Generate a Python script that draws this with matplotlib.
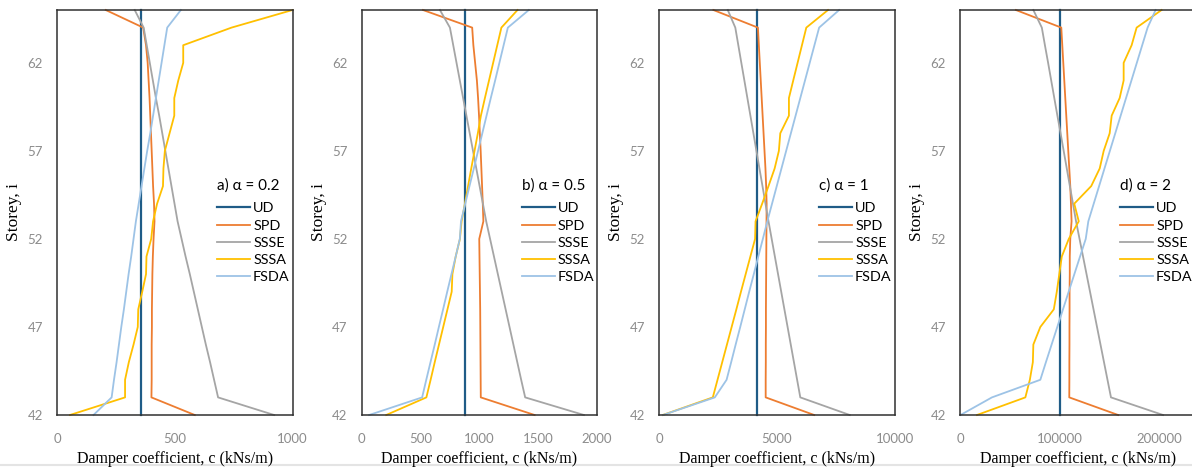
import numpy as np
import matplotlib.pyplot as plt
from matplotlib.lines import Line2D

plt.rcParams['font.family'] = ['Lato', 'DejaVu Sans']

storeys = [42, 43, 44, 45, 46, 47, 48, 49, 50, 51, 52, 53,
           54, 55, 56, 57, 58, 59, 60, 61, 62, 63, 64, 65]

# a) alpha = 0.2
ud_a = 358
spd_a = [585, 401, 402, 402, 402, 403, 403, 404, 405, 407, 410, 414,
         412, 408, 405, 402, 399, 396, 393, 389, 385, 378, 366, 207]
ssse_a = [922, 684, 667, 650, 632, 615, 598, 581, 564, 546, 529, 512,
          499, 486, 473, 460, 447, 434, 420, 407, 394, 381, 368, 330]
sssa_a = [55, 289, 289, 305, 325, 343, 345, 362, 378, 380, 400, 408,
          425, 450, 452, 458, 478, 498, 498, 515, 536, 536, 741, 1000]
fsda_a = [155, 232, 242, 253, 263, 273, 284, 294, 304, 315, 325, 335,
          347, 359, 371, 383, 396, 408, 420, 432, 444, 456, 468, 526]

# b) alpha = 0.5
ud_b = 880
spd_b = [1470, 1013, 1012, 1011, 1010, 1009, 1008, 1006, 1004, 1002, 1000, 1035,
         1030, 1024, 1018, 1012, 1005, 998, 990, 980, 965, 950, 940, 522]
ssse_b = [1889, 1390, 1356, 1323, 1290, 1257, 1224, 1191, 1158, 1125, 1092, 1059,
          1031, 1003, 975, 947, 919, 891, 863, 835, 807, 779, 751, 666]
sssa_b = [210, 551, 587, 622, 658, 694, 730, 766, 772, 800, 836, 850,
          878, 905, 932, 960, 988, 1014, 1048, 1083, 1118, 1153, 1188, 1325]
fsda_b = [65, 515, 550, 586, 622, 657, 693, 728, 764, 800, 835, 845,
          881, 917, 954, 990, 1026, 1062, 1098, 1135, 1171, 1207, 1243, 1421]

# c) alpha = 1
ud_c = 4150
spd_c = [6590, 4530, 4530, 4535, 4535, 4540, 4540, 4545, 4550, 4555, 4560, 4565,
         4570, 4550, 4520, 4480, 4440, 4400, 4360, 4320, 4280, 4240, 4200, 2310]
ssse_c = [8100, 6000, 5865, 5730, 5595, 5460, 5325, 5190, 5055, 4920, 4785, 4650,
          4522, 4394, 4265, 4137, 4009, 3881, 3753, 3625, 3496, 3368, 3240, 2920]
sssa_c = [160, 2285, 2485, 2685, 2885, 3085, 3285, 3480, 3680, 3880, 4080, 4100,
          4380, 4650, 4910, 5090, 5150, 5517, 5517, 5700, 5885, 6070, 6255, 7177]
fsda_c = [170, 2370, 2870, 3065, 3255, 3450, 3640, 3830, 4025, 4215, 4410, 4600,
          4800, 5000, 5200, 5400, 5600, 5800, 6000, 6200, 6400, 6600, 6800, 7650]

# d) alpha = 2
ud_d = 100500
spd_d = [158500, 109500, 109600, 109600, 109700, 109700, 109800, 109800, 110000, 110000, 110500, 111800,
         111200, 110500, 109500, 108500, 107500, 106500, 105500, 104500, 103500, 102500, 101500, 56000]
ssse_d = [203500, 151300, 147800, 144300, 140800, 137300, 133800, 130300, 126800, 123300, 119800, 116300,
          113200, 110100, 107000, 103900, 100800, 97600, 94500, 91400, 88300, 85100, 82000, 73500]
sssa_d = [17000, 65500, 70000, 73000, 73500, 80500, 94000, 97000, 99500, 102000, 109000, 119000,
          114500, 131500, 140000, 144000, 150000, 152000, 160000, 164000, 164000, 172000, 177000, 202000]
fsda_d = [500, 32000, 80500, 86100, 91800, 97500, 103200, 108900, 114600, 120300, 126000, 128600,
          134000, 139400, 144800, 150200, 155600, 161000, 166400, 171800, 177200, 182600, 188000, 196000]

titles = ['a) α = 0.2', 'b) α = 0.5', 'c) α = 1', 'd) α = 2']
xmax = [1000, 2000, 10000, 236000]
xticks = [[0, 500, 1000], [0, 500, 1000, 1500, 2000],
          [0, 5000, 10000], [0, 100000, 200000]]
series = [
    (ud_a, spd_a, ssse_a, sssa_a, fsda_a),
    (ud_b, spd_b, ssse_b, sssa_b, fsda_b),
    (ud_c, spd_c, ssse_c, sssa_c, fsda_c),
    (ud_d, spd_d, ssse_d, sssa_d, fsda_d),
]
names = ['UD', 'SPD', 'SSSE', 'SSSA', 'FSDA']
colors = ['#1F5C87', '#ED7D31', '#A5A5A5', '#FFC000', '#9DC3E6']

W, H = 1192, 468
fig = plt.figure(figsize=(W / 100, H / 100), dpi=100)
lefts = [57, 361.5, 659, 960]
width = 235.5
bottom, top = 415, 10

for k in range(4):
    ax = fig.add_axes([lefts[k] / W, (H - bottom) / H, width / W, (bottom - top) / H])
    ud, spd, ssse, sssa, fsda = series[k]
    vals = [np.full(len(storeys), ud), spd, ssse, sssa, fsda]
    for v, name, col in zip(vals, names, colors):
        lw = 1.6 if name == 'UD' else 1.3
        ax.plot(v, storeys, color=col, lw=lw, label=name, clip_on=False)

    ax.set_xlim(0, xmax[k])
    ax.set_ylim(42, 65)
    ax.set_xticks(xticks[k])
    ax.set_yticks([42, 47, 52, 57, 62])
    ax.tick_params(length=0, labelsize=9.5, labelcolor='#8C8C8C')
    ax.tick_params(axis='y', pad=10)
    ax.tick_params(axis='x', pad=13)
    for s in ax.spines.values():
        s.set_color('#303030')
        s.set_linewidth(1.1)

    ax.set_xlabel('Damper coefficient, c (kNs/m)', family='Liberation Serif',
                  fontsize=11.5, labelpad=4.5)
    ax.set_ylabel('Storey, i', family='Liberation Serif', fontsize=12.5, labelpad=4)

    leg = ax.legend(title=titles[k], loc='upper left', frameon=False,
                    bbox_to_anchor=(160 / width, 0.585), fontsize=10.4,
                    title_fontsize=11, handlelength=2.3, handletextpad=0.2,
                    labelspacing=0.36, borderaxespad=0, borderpad=0,
                    alignment='left')
    # a little more room between the panel title and the entries
    leg._legend_box.sep = 7

fig.add_artist(Line2D([0, 1], [3 / H, 3 / H], color='#E4E4E4', lw=1.5, zorder=-1))

fig.savefig('out.png', dpi=100)
